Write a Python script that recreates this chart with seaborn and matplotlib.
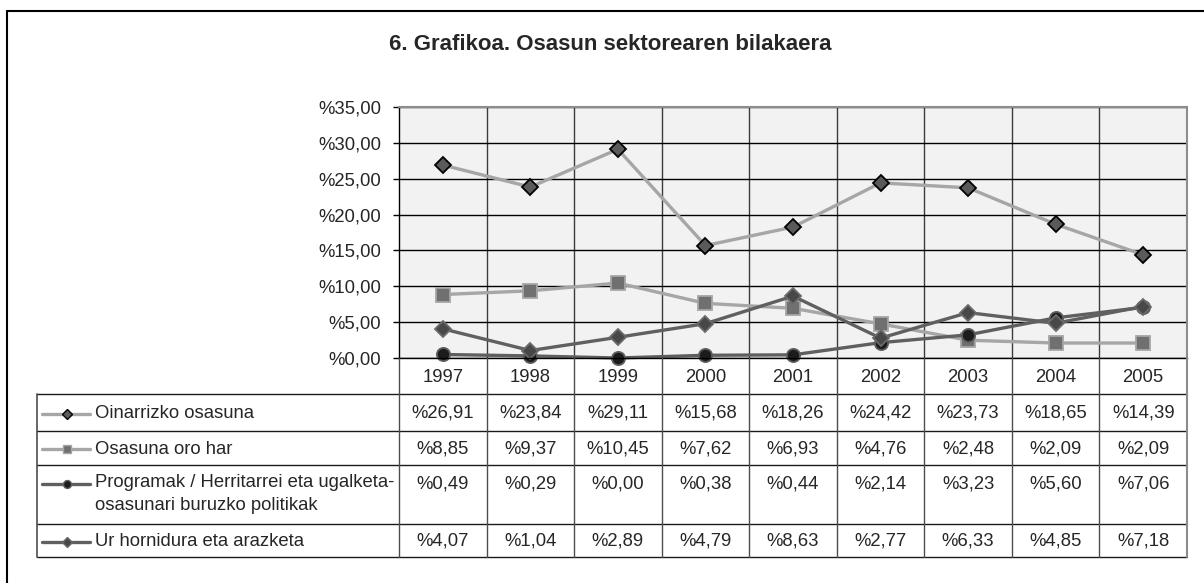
import numpy as np
import pandas as pd
import seaborn as sns
import matplotlib.pyplot as plt
from matplotlib.lines import Line2D

# data
years = [1997, 1998, 1999, 2000, 2001, 2002, 2003, 2004, 2005]
oinarrizko = [26.91, 23.84, 29.11, 15.68, 18.26, 24.42, 23.73, 18.65, 14.39]
oro_har = [8.85, 9.37, 10.45, 7.62, 6.93, 4.76, 2.48, 2.09, 2.09]
programak = [0.49, 0.29, 0.00, 0.38, 0.44, 2.14, 3.23, 5.60, 7.06]
ur = [4.07, 1.04, 2.89, 4.79, 8.63, 2.77, 6.33, 4.85, 7.18]
names = ["Oinarrizko osasuna", "Osasuna oro har",
         "Programak / Herritarrei eta ugalketa-\nosasunari buruzko politikak",
         "Ur hornidura eta arazketa"]
y_ticks = [0, 5, 10, 15, 20, 25, 30, 35]
title = "6. Grafikoa. Osasun sektorearen bilakaera"

series = [oinarrizko, oro_har, programak, ur]

# looks for each series
styles = [
    dict(color='#a6a6a6', marker='D', markersize=8.5, markerfacecolor='#5a5a5a',
         markeredgecolor='#000000', markeredgewidth=1.3),
    dict(color='#a6a6a6', marker='s', markersize=10, markerfacecolor='#707070',
         markeredgecolor='#a6a6a6', markeredgewidth=1.3),
    dict(color='#5f5f5f', marker='o', markersize=9.5, markerfacecolor='#1c1c1c',
         markeredgecolor='#5f5f5f', markeredgewidth=1.3),
    dict(color='#606060', marker='D', markersize=7.8, markerfacecolor='#484848',
         markeredgecolor='#6a6a6a', markeredgewidth=1.3),
]


def pct(v):
    return ('%' + f"{v:.2f}").replace('.', ',')


sns.set_style("white")
plt.rcParams['font.family'] = ['Liberation Sans', 'DejaVu Sans']
FS = 13.3

W, H = 1204, 583
L, R, T, B = 399, 1187, 107, 358   # plot area in pixels
TL = 37                            # table left edge
rows = [358, 394, 431, 465, 524, 557]

fig = plt.figure(figsize=(W / 100, H / 100), dpi=100)

ax = fig.add_axes([L / W, 1 - B / H, (R - L) / W, (B - T) / H])
ax.set_facecolor('#f2f2f2')
for vals, st in zip(series, styles):
    sns.lineplot(x=years, y=vals, ax=ax, linewidth=2.4, clip_on=False, **st)

ax.set_xlim(years[0] - 0.5, years[-1] + 0.5)
ax.set_ylim(0, 35)
ax.set_yticks(y_ticks)
ax.set_yticklabels([pct(v) for v in y_ticks])
ax.set_xticks([])
ax.yaxis.grid(True, color='black', lw=1)
ax.set_axisbelow(True)
ax.vlines([y + 0.5 for y in years[:-1]], 0, 35, color='#3c3c3c', lw=1, zorder=0.5)
ax.tick_params(axis='y', left=True, length=4, width=1, color='black',
               pad=9, labelsize=FS)
for s in ['left', 'bottom']:
    ax.spines[s].set_color('black')
    ax.spines[s].set_linewidth(1)
for s in ['top', 'right']:
    ax.spines[s].set_color('#8c8c8c')
    ax.spines[s].set_linewidth(1.5)

# data table under the chart
px = (R - L) / len(years)
x0 = years[0] - 0.5 - (L - TL) / px
x1 = years[-1] + 0.5
tab = fig.add_axes([TL / W, 1 - rows[-1] / H, (R + 1 - TL) / W, (rows[-1] - rows[0]) / H])
tab.axis('off')
tab.set_xlim(x0, x1 + 1 / px)
tab.set_ylim(rows[-1], rows[0])

def col_x(p):
    return x0 + (p - TL) / px

for yy in rows[1:]:
    tab.plot([x0, x1], [yy, yy], color='#1a1a1a', lw=1, clip_on=False)
for xx in [years[0] - 0.5] + [y + 0.5 for y in years[:-1]]:
    tab.plot([xx, xx], [rows[0], rows[-1]], color='#4d4d4d', lw=1, clip_on=False)
tab.plot([x1, x1], [rows[0], rows[-1]], color='#8c8c8c', lw=1.5, clip_on=False)
tab.plot([x0, x0], [rows[1], rows[-1]], color='#4d4d4d', lw=1.2, clip_on=False)

for y in years:
    tab.text(y, (rows[0] + rows[1]) / 2 + 1, str(y), ha='center', va='center', fontsize=FS)

text_y = [(rows[1] + rows[2]) / 2 + 1, (rows[2] + rows[3]) / 2 + 1, rows[3] + 19,
          (rows[4] + rows[5]) / 2 + 1]
for i, (vals, st, name) in enumerate(zip(series, styles, names)):
    yy = text_y[i]
    for y, v in zip(years, vals):
        tab.text(y, yy, pct(v), ha='center', va='center', fontsize=FS)
    tab.plot([col_x(42), col_x(90)], [yy, yy], color=st['color'], lw=2.4, clip_on=False)
    tab.plot([col_x(67)], [yy], marker=st['marker'], markersize=st['markersize'] * 0.6,
             markerfacecolor=st['markerfacecolor'], markeredgecolor=st['markeredgecolor'],
             markeredgewidth=1, clip_on=False, ls='none')
    if '\n' in name:
        tab.text(col_x(95), yy - 10, name, ha='left', va='top', fontsize=FS, linespacing=1.45)
    else:
        tab.text(col_x(95), yy, name, ha='left', va='center', fontsize=FS)

fig.text(610 / W, 1 - 44 / H, title, ha='center', va='center', fontsize=16, weight='bold')

# outer frame (only top and left are inside the picture)
fig.add_artist(Line2D([7 / W, 7 / W], [0, 1 - 11 / H], color='black', lw=1.5))
fig.add_artist(Line2D([7 / W, 1], [1 - 11 / H, 1 - 11 / H], color='black', lw=1.5))

fig.savefig('out.png', dpi=100)
